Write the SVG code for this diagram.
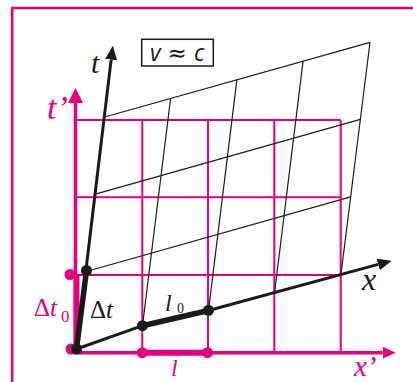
<svg xmlns="http://www.w3.org/2000/svg" width="413" height="382" viewBox="0 0 413 382">
<style>
.mg{stroke:#e4007f;fill:none;stroke-width:2}
.ma{stroke:#e4007f;fill:none;stroke-width:3.5}
.mt{stroke:#e4007f;fill:none;stroke-width:6}
.bg{stroke:#1a1a1a;fill:none;stroke-width:1.2}
.ba{stroke:#1a1a1a;fill:none;stroke-width:3}
.bt{stroke:#1a1a1a;fill:none;stroke-width:5.5;stroke-linecap:round}
.bd{fill:#1a1a1a}
.md{fill:#e4007f}
.serif{font-family:"Liberation Serif","Times New Roman",serif;font-style:italic}
.up{font-style:normal}
.mtx{fill:#e4007f}
.btx{fill:#1a1a1a}
</style>
<defs>
<marker id="ab" markerUnits="userSpaceOnUse" markerWidth="14" markerHeight="12" viewBox="0 0 14 12" refX="0" refY="6" orient="auto"><path d="M0,0 L14,6 L0,12 z" fill="#1a1a1a"/></marker>
<marker id="am1" markerUnits="userSpaceOnUse" markerWidth="15" markerHeight="15" viewBox="0 0 15 15" refX="0" refY="7.5" orient="auto"><path d="M0,0 L15,7.5 L0,15 z" fill="#e4007f"/></marker>
<marker id="am2" markerUnits="userSpaceOnUse" markerWidth="13" markerHeight="12" viewBox="0 0 13 12" refX="0" refY="6" orient="auto"><path d="M0,0 L13,6 L0,12 z" fill="#e4007f"/></marker>
</defs>
<rect width="413" height="382" fill="#ffffff"/>
<path id="frame" d="M12.2,382 V8 H413" stroke="#e4007f" stroke-width="2.5" fill="none"/>

<g id="connectors">
<g id="magenta-grid">
<path class="mg" d="M142.3,120 V352.7 M208,120 V352.7 M274.3,120 V352.7 M340.7,120 V352.7"/>
<path class="mg" d="M75.5,120 H340.7 M75.5,197.3 H340.7 M75.5,275 H340.7"/>
</g>
<line id="t-prime-axis" class="ma" x1="75.5" y1="354" x2="75.5" y2="103" marker-end="url(#am1)"/>
<line id="x-prime-axis" class="ma" x1="74" y1="352.7" x2="382.7" y2="352.7" marker-end="url(#am2)"/>
<line id="dt0-seg" class="mt" x1="76.5" y1="275" x2="76.5" y2="349"/>
<line id="l-seg" class="mt" x1="142.3" y1="352.7" x2="207.5" y2="352.7"/>

<g id="black-grid">
<path class="bg" d="M142.5,325.7 L170.6,98.3 M208.5,310.5 L236.9,79.6 M274.6,292.5 L303.1,60.9 M341,274 L370,42.3"/>
<path class="bg" d="M86.3,271.5 L350.6,196.8 M95.4,194.2 L360.3,119.3 M104.7,117 L370,42.3"/>
</g>
<line id="t-axis" class="ba" x1="76.5" y1="349" x2="111.15" y2="59.6" marker-end="url(#ab)"/>
<polyline id="x-axis" class="ba" points="76.5,349 142.5,325.7 208.5,310.5 378.2,264.4" marker-end="url(#ab)"/>
<line id="dt-seg" class="bt" x1="76.5" y1="349" x2="86.5" y2="270.5"/>
<line id="l0-seg" class="bt" x1="142.5" y1="325.7" x2="208.5" y2="310.5"/>
</g>

<g id="dots">
<circle class="md" cx="70" cy="274.5" r="5.5"/>
<circle class="md" cx="71" cy="349" r="5.5"/>
<circle class="md" cx="142.3" cy="352.7" r="5.5"/>
<circle class="md" cx="207.5" cy="352.7" r="5.5"/>
<circle class="bd" cx="76.5" cy="349" r="5.5"/>
<circle class="bd" cx="86.5" cy="270.5" r="5.5"/>
<circle class="bd" cx="142.5" cy="325.7" r="5.5"/>
<circle class="bd" cx="208.5" cy="310.3" r="5.5"/>
</g>

<g id="label-box">
<rect x="141.7" y="39.3" width="71.6" height="26.7" fill="#ffffff" stroke="#1a1a1a" stroke-width="1.5"/>
<text y="61" font-family="'Open Sans','Noto Sans',sans-serif" font-style="italic" font-size="23" fill="#1a1a1a"><tspan x="150">v</tspan><tspan x="167.5" font-family="'DejaVu Sans',sans-serif" font-style="normal" font-size="23">≈</tspan><tspan x="194">c</tspan></text>
</g>

<g id="labels">
<text class="serif btx" x="91" y="73" font-size="30">t</text>
<text class="serif btx" x="362" y="290" font-size="32">x</text>
<text class="serif mtx" x="47" y="119" font-size="34">t’</text>
<text class="serif mtx" x="354" y="376" font-size="29">x’</text>
<text class="serif btx" x="90" y="318" font-size="25"><tspan class="up">Δ</tspan>t</text>
<text class="serif mtx" x="34" y="316" font-size="25"><tspan class="up">Δ</tspan>t</text>
<text class="serif mtx up" x="61" y="321.5" font-size="17">0</text>
<text class="serif btx" x="165" y="310.5" font-size="24">l</text>
<text class="serif btx up" x="177" y="312.7" font-size="14">0</text>
<text class="serif mtx" x="171" y="376" font-size="24">l</text>
</g>
</svg>
